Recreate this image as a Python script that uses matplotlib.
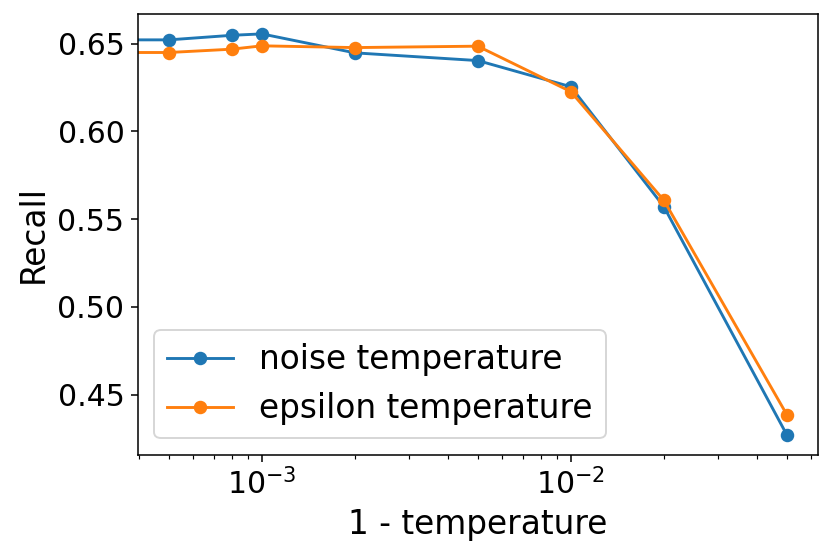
#!/usr/bin/env python3
"""Recall vs (1 - temperature) for noise and epsilon temperature."""

import matplotlib
matplotlib.use("Agg")
import matplotlib.pyplot as plt

# 1 - temperature (0 -> temperature 1.0, clipped off the log axis)
one_minus_temp = [0.0, 0.0005, 0.0008, 0.001, 0.002, 0.005, 0.01, 0.02, 0.05]
noise_recall = [0.6521, 0.6521, 0.6547, 0.6555, 0.6447, 0.6403, 0.6254, 0.5571, 0.4271]
epsilon_recall = [0.6449, 0.6449, 0.6468, 0.6487, 0.6477, 0.6485, 0.6226, 0.5607, 0.4386]

plt.rcParams["font.size"] = 15.5

fig, ax = plt.subplots(figsize=(6, 4), dpi=138.5)
ax.plot(one_minus_temp, noise_recall, "o-", label="noise temperature")
ax.plot(one_minus_temp, epsilon_recall, "o-", label="epsilon temperature")
ax.set_xscale("log")
ax.set_xlabel("1 - temperature", fontsize=17)
ax.set_ylabel("Recall", fontsize=17)
ax.legend(loc="lower left", fontsize=17)
fig.subplots_adjust(left=0.166, right=0.984, top=0.975, bottom=0.179)
fig.savefig("out.png", dpi=138.5)
